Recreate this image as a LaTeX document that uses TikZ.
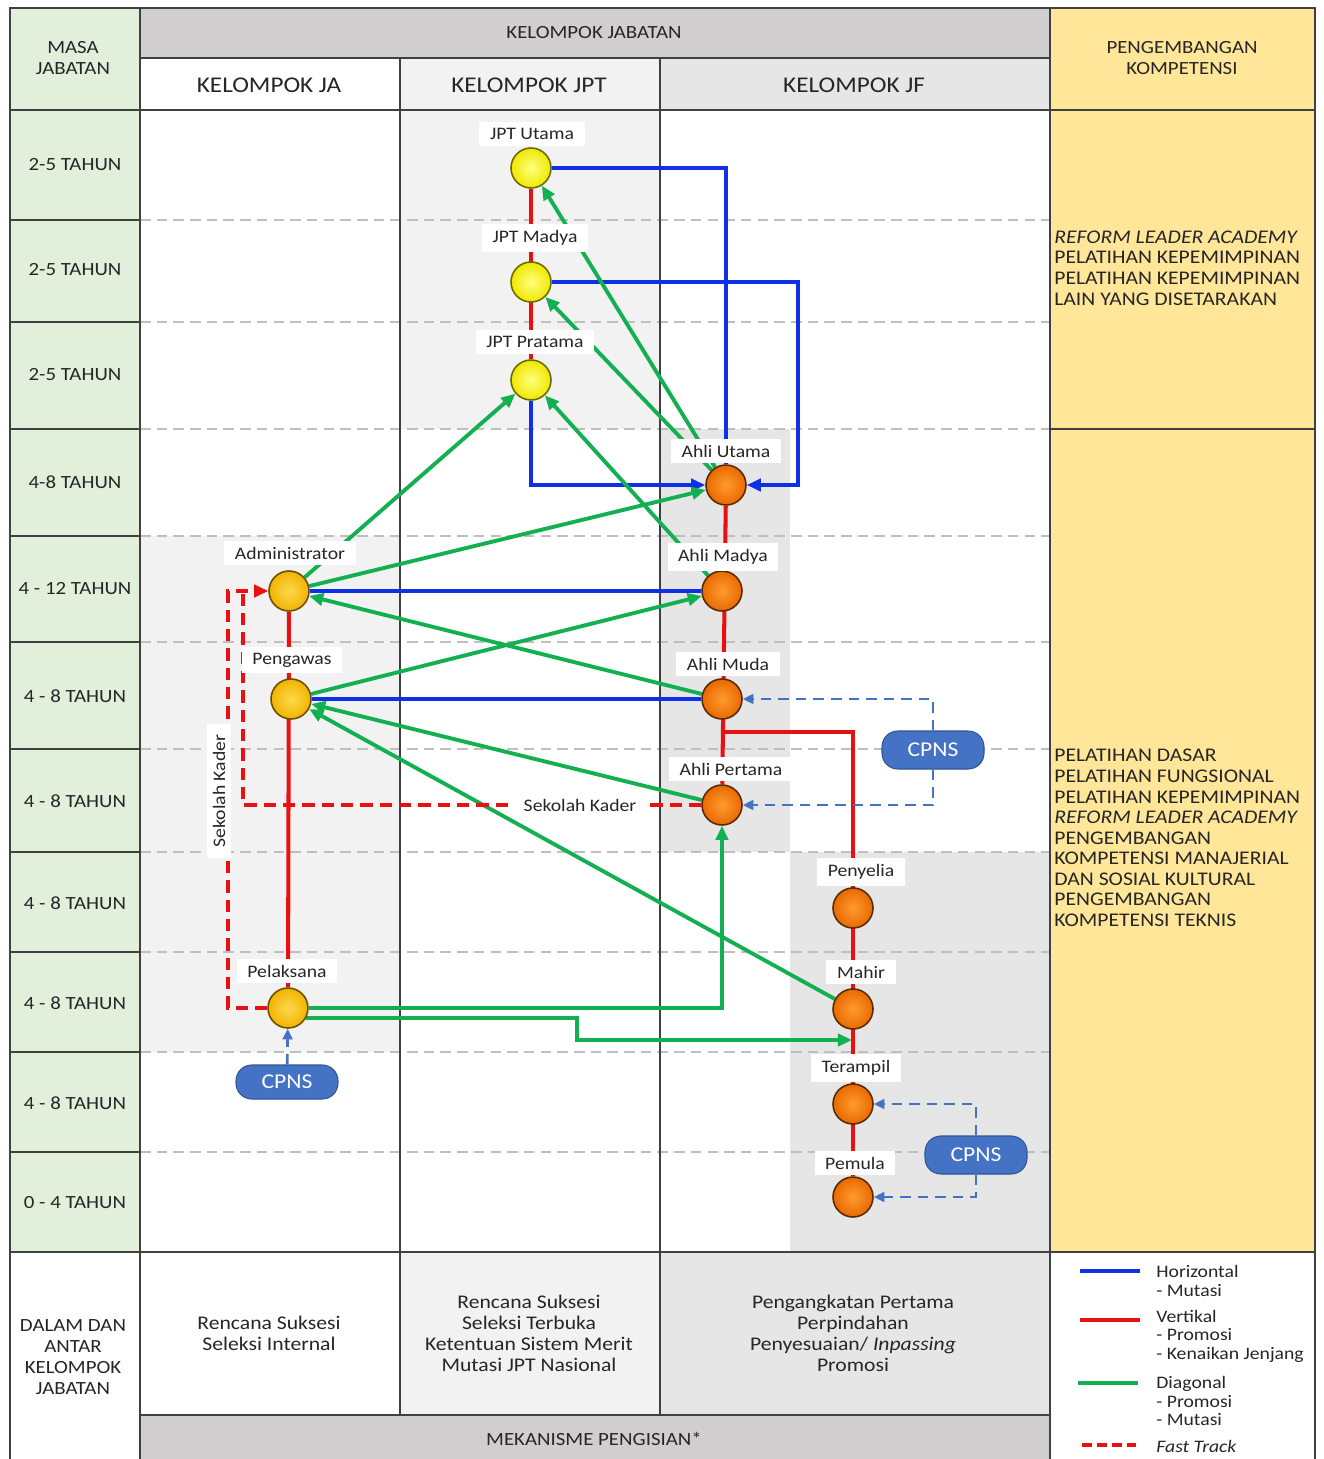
\documentclass[tikz,border=0pt]{standalone}
\usepackage{fontspec}
\setmainfont{Carlito}[FakeStretch=1.12]
\usetikzlibrary{arrows.meta}

\definecolor{masagreen}{HTML}{E2EFDA}
\definecolor{kompyellow}{HTML}{FFE699}
\definecolor{hdrgrey}{HTML}{D0CECE}
\definecolor{jfgrey}{HTML}{E7E6E6}
\definecolor{jptgrey}{HTML}{F2F2F2}
\definecolor{rowgrey}{HTML}{BFBFBF}
\definecolor{gridline}{HTML}{404040}
\definecolor{horblue}{HTML}{1030E8}
\definecolor{vertred}{HTML}{E81010}
\definecolor{diaggreen}{HTML}{12B050}
\definecolor{cpnsblue}{HTML}{4472C4}
\definecolor{txt}{HTML}{262626}
\definecolor{jptin}{HTML}{FFFF80}
\definecolor{jptout}{HTML}{F0E800}
\definecolor{jptrim}{HTML}{6B6B00}
\definecolor{jain}{HTML}{FFD84D}
\definecolor{jaout}{HTML}{F0B400}
\definecolor{jarim}{HTML}{6B5000}
\definecolor{jfin}{HTML}{FF9A30}
\definecolor{jfout}{HTML}{E86A00}
\definecolor{jfrim}{HTML}{5A2A00}

\pgfdeclarelayer{bg}
\pgfdeclarelayer{lines}
\pgfsetlayers{bg,lines,main}

\begin{document}
\begin{tikzpicture}[x=0.02cm,y=-0.02cm,
  >={Triangle[length=8pt,width=7pt]},
  every node/.style={text=txt},
  grid/.style={draw=gridline,line width=0.8pt},
  rowsep/.style={draw=rowgrey,line width=1.4pt,dash pattern=on 6pt off 3.5pt},
  hor/.style={draw=horblue,line width=2pt},
  vert/.style={draw=vertred,line width=2.3pt},
  diag/.style={draw=diaggreen,line width=2.2pt},
  fast/.style={draw=vertred,line width=2.3pt,dash pattern=on 7pt off 4pt},
  cpnsline/.style={draw=cpnsblue,line width=1.5pt,dash pattern=on 6pt off 4pt,
    >={Triangle[length=6pt,width=5.5pt]}},
  posn/.style={circle,minimum size=0.8cm,inner sep=0pt,line width=0.9pt},
  jptpos/.style={posn,draw=jptrim,inner color=jptin,outer color=jptout},
  japos/.style={posn,draw=jarim,inner color=jain,outer color=jaout},
  jfpos/.style={posn,draw=jfrim,inner color=jfin,outer color=jfout},
  lbl/.style={fill=white,inner xsep=6pt,inner ysep=3.5pt,font=\fontsize{10}{12}\selectfont},
  cpns/.style={fill=cpnsblue,draw=cpnsblue!75!black,line width=0.6pt,rounded corners=9pt,
    text=white,minimum width=2.04cm,minimum height=0.76cm,font=\fontsize{12}{14}\selectfont},
  hdr/.style={align=center,font=\fontsize{10.6}{12}\selectfont},
  sub/.style={font=\fontsize{12.8}{15}\selectfont},
  rowlbl/.style={font=\fontsize{10.6}{12}\selectfont},
  komp/.style={anchor=west,align=left,inner sep=0pt,font=\fontsize{11}{11.7}\selectfont},
  mech/.style={align=center,font=\fontsize{11}{12}\selectfont},
  lgd/.style={anchor=west,align=left,inner sep=0pt,font=\fontsize{10}{10.5}\selectfont}]

\useasboundingbox (0,0) rectangle (1323,1459);

\begin{pgfonlayer}{bg}
% fills
\fill[white] (0,0) rectangle (1323,1459);
\fill[masagreen] (10,8) rectangle (140,1252);
\fill[hdrgrey] (140,8) rectangle (1050,58);
\fill[jptgrey] (400,58) rectangle (660,110);
\fill[jfgrey] (660,58) rectangle (1050,110);
\fill[kompyellow] (1050,8) rectangle (1315,1252);
\fill[jptgrey] (400,110) rectangle (660,429);
\fill[jptgrey] (140,536) rectangle (400,1052);
\fill[jfgrey] (660,429) rectangle (790,852);
\fill[jfgrey] (790,852) rectangle (1050,1252);
\fill[jptgrey] (400,1252) rectangle (660,1415);
\fill[jfgrey] (660,1252) rectangle (1050,1415);
\fill[hdrgrey] (140,1415) rectangle (1050,1459);

\foreach \y in {220,322,429,536,642,749,852,952,1052,1152}{
  \draw[rowsep] (140,\y) -- (1050,\y);
  \draw[grid] (10,\y) -- (140,\y);
}

\draw[grid] (10,1459) -- (10,8) -- (1315,8) -- (1315,1459);
\draw[grid] (140,8) -- (140,1459);
\draw[grid] (1050,8) -- (1050,1459);
\draw[grid] (140,58) -- (1050,58);
\draw[grid] (10,110) -- (1315,110);
\draw[grid] (1050,429) -- (1315,429);
\draw[grid] (10,1252) -- (1315,1252);
\draw[grid] (140,1415) -- (1050,1415);
\draw[grid] (400,58) -- (400,1415);
\draw[grid] (660,58) -- (660,1415);
\end{pgfonlayer}

% headers
\node[hdr] (masaHdr) at (73,58) {MASA\\JABATAN};
\node[hdr] (jabHdr) at (594,33) {KELOMPOK JABATAN};
\node[sub] (jaHdr) at (269,85) {KELOMPOK JA};
\node[sub] (jptHdr) at (529,85) {KELOMPOK JPT};
\node[sub] (jfHdr) at (854,85) {KELOMPOK JF};
\node[hdr] (kompHdr) at (1182,58) {PENGEMBANGAN\\KOMPETENSI};

\foreach \y/\t [count=\i] in {165/2-5 TAHUN,270/2-5 TAHUN,375/2-5 TAHUN,482/4-8 TAHUN,
  589/4 - 12 TAHUN,696/4 - 8 TAHUN,801/4 - 8 TAHUN,903/4 - 8 TAHUN,1003/4 - 8 TAHUN,
  1103/4 - 8 TAHUN,1203/0 - 4 TAHUN}
  \node[rowlbl] (masa\i) at (75,\y) {\t};

\node[komp] (kompA) at (1054,268) {\textit{REFORM LEADER ACADEMY}\\PELATIHAN KEPEMIMPINAN\\
  PELATIHAN KEPEMIMPINAN\\LAIN YANG DISETARAKAN};
\node[komp] (kompB) at (1054,838) {PELATIHAN DASAR\\PELATIHAN FUNGSIONAL\\
  PELATIHAN KEPEMIMPINAN\\\textit{REFORM LEADER ACADEMY}\\PENGEMBANGAN\\
  KOMPETENSI MANAJERIAL\\DAN SOSIAL KULTURAL\\PENGEMBANGAN\\KOMPETENSI TEKNIS};

% positions
\node[jptpos] (jptU) at (531,168) {};
\node[jptpos] (jptM) at (531,282) {};
\node[jptpos] (jptP) at (531,380) {};
\node[jfpos] (ahliU) at (726,485) {};
\node[jfpos] (ahliMd) at (722,591) {};
\node[jfpos] (ahliMu) at (722,699) {};
\node[jfpos] (ahliP) at (722,805) {};
\node[jfpos] (penyelia) at (853,908) {};
\node[jfpos] (mahir) at (853,1009) {};
\node[jfpos] (terampil) at (853,1104) {};
\node[jfpos] (pemula) at (853,1197) {};
\node[japos] (adm) at (289,591) {};
\node[japos] (pengawas) at (291,699) {};
\node[japos] (pelaksana) at (288,1008) {};

\node[cpns,minimum height=0.68cm] (cpnsA) at (287,1082) {CPNS};
\node[cpns] (cpnsB) at (933,750) {CPNS};
\node[cpns] (cpnsC) at (976,1155) {CPNS};

\coordinate (mbend) at (798,485);
\coordinate (jfbr) at (722,732);
\coordinate (gbend) at (577,1040);
\coordinate (gmahir) at (852,1040);
\coordinate (ftB) at (228,591);
\coordinate (ftC) at (243,591);

\begin{pgfonlayer}{lines}
% horizontal
\draw[hor] (jptU) -| (ahliU);
\draw[hor,->] (jptM) -| (mbend) -- (ahliU);
\draw[hor,->] (jptP) |- (ahliU);
\draw[hor] (adm) -- (ahliMd);
\draw[hor] (pengawas) -- (ahliMu);

% vertical
\draw[vert] (jptU) -- (jptP);
\draw[vert] (ahliU) -- (ahliP);
\draw[vert] (jfbr) -| (pemula);
\draw[vert] (adm) -- (pelaksana);

% diagonal
\draw[diag,->] (ahliU) -- (jptU);
\draw[diag,->] (ahliU) -- (jptM);
\draw[diag,->] (ahliMd) -- (jptP);
\draw[diag,->] (adm) -- (jptP);
\draw[diag,->] (adm) -- (ahliU);
\draw[diag,->] (ahliMu) -- (adm);
\draw[diag,->] (pengawas) -- (ahliMd);
\draw[diag,->] (ahliP) -- (pengawas);
\draw[diag,->] (mahir) -- (pengawas);
\draw[diag,->] (pelaksana) -| (ahliP);
\draw[diag,->] (pelaksana.-28) -| (gbend) -- (gmahir);

% fast track
\draw[fast,->] (pelaksana) -| (ftB) -- (adm);
\draw[fast] (ahliP) -| (ftC);

% cpns
\draw[cpnsline,->] (cpnsA) -- (pelaksana);
\draw[cpnsline,->] (cpnsB) |- (ahliMu);
\draw[cpnsline,->] (cpnsB) |- (ahliP);
\draw[cpnsline,->] (cpnsC) |- (terampil);
\draw[cpnsline,->] (cpnsC) |- (pemula);
\end{pgfonlayer}

% labels
\node[lbl] (jptUl) at (532,134) {JPT Utama};
\node[lbl] (jptMl) at (535,238) {JPT Madya};
\node[lbl] (jptPl) at (535,342) {JPT Pratama};
\node[lbl] (ahliUl) at (726,451) {Ahli Utama};
\node[lbl] (ahliMdl) at (723,557) {Ahli Madya};
\node[lbl] (ahliMul) at (728,664) {Ahli Muda};
\node[lbl] (ahliPl) at (731,769) {Ahli Pertama};
\node[lbl] (penyelial) at (861,872) {Penyelia};
\node[lbl] (mahirl) at (861,972) {Mahir};
\node[lbl] (terampill) at (856,1068) {Terampil};
\node[lbl] (pemulal) at (855,1163) {Pemula};
\node[lbl] (adml) at (290,553) {Administrator};
\node[lbl] (pengawasl) at (292,660) {Pengawas};
\node[lbl] (pelaksanal) at (287,971) {Pelaksana};
\node[lbl] (kaderH) at (580,805) {Sekolah Kader};
\node[lbl,rotate=90] (kaderV) at (219,791) {Sekolah Kader};

% mekanisme pengisian
\node[hdr] (masaBot) at (73,1357) {DALAM DAN\\ANTAR\\KELOMPOK\\JABATAN};
\node[mech] (jaBot) at (269,1333) {Rencana Suksesi\\Seleksi Internal};
\node[mech] (jptBot) at (529,1333) {Rencana Suksesi\\Seleksi Terbuka\\Ketentuan Sistem Merit\\Mutasi JPT Nasional};
\node[mech] (jfBot) at (853,1333) {Pengangkatan Pertama\\Perpindahan\\Penyesuaian/ \textit{Inpassing}\\Promosi};
\node[hdr] (mekHdr) at (594,1439) {MEKANISME PENGISIAN*};

% legend
\draw[hor,line width=2.4pt] (1080,1271) -- (1140,1271);
\draw[vert] (1080,1320) -- (1140,1320);
\draw[diag,line width=2.4pt] (1078,1383) -- (1138,1383);
\draw[fast,dash pattern=on 5.5pt off 3pt] (1082,1445) -- (1140,1445);
\node[lgd] (lgdH) at (1156,1281) {Horizontal\\- Mutasi};
\node[lgd] (lgdV) at (1156,1336) {Vertikal\\- Promosi\\- Kenaikan Jenjang};
\node[lgd] (lgdD) at (1156,1401) {Diagonal\\- Promosi\\- Mutasi};
\node[lgd] (lgdF) at (1156,1446) {\textit{Fast Track}};
\end{tikzpicture}
\end{document}
